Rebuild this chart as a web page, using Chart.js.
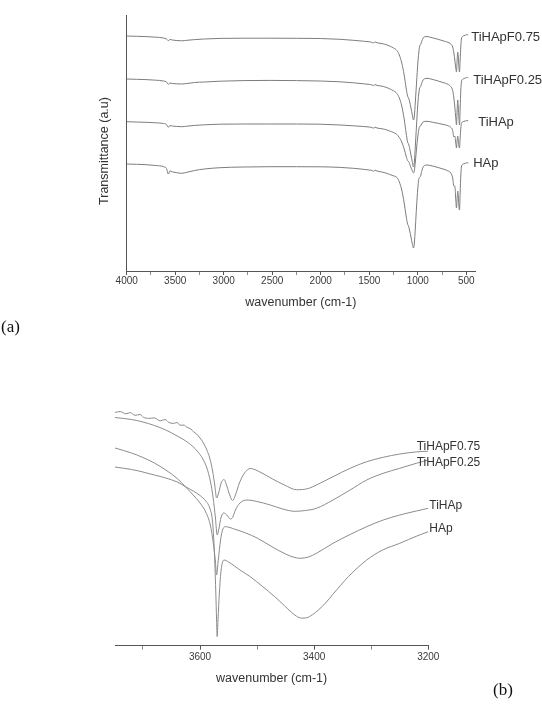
<!DOCTYPE html>
<html><head><meta charset="utf-8">
<script src="https://cdn.jsdelivr.net/npm/chart.js@4/dist/chart.umd.min.js"></script>
<style>
html,body{margin:0;padding:0;background:#fff;}
#wrap{position:relative;width:542px;height:707px;overflow:hidden;background:#fff;}
#ca{position:absolute;left:0;top:0;width:542px;height:320px;}
#cb{position:absolute;left:0;top:380px;width:542px;height:320px;}
.panel{position:absolute;font-family:"Liberation Serif","Times New Roman",serif;font-size:17px;color:#111;line-height:20px;}
</style></head><body>
<div id="wrap">
<canvas id="ca" width="542" height="320"></canvas>
<canvas id="cb" width="542" height="320"></canvas>
<div class="panel" style="left:1px;top:317px">(a)</div>
<div class="panel" style="left:493px;top:680px">(b)</div>
</div>
<script>
// ---------- Panel (a): full spectra ----------
const namesA = ['TiHApF0.75', 'TiHApF0.25', 'TiHAp', 'HAp'];
const wavenumberA = [4000,3900,3800,3700,3620,3590,3571,3555,3530,3490,3433,3380,3300,3200,3038,2800,2522,2250,2006,1800,1663,1560,1500,1470,1457,1440,1420,1380,1330,1290,1250,1215,1190,1165,1140,1120,1105,1095,1085,1070,1055,1044,1035,1025,1012,1000,990,980,970,960,945,925,905,880,840,790,740,690,660,640,628,618,608,601,594,588,582,576,570,563,556,550,540,525,510,495,480];
const tiHApF075A = [235,234.7,234.4,233.8,233,232,230.3,231.5,231,230.5,230.2,230.7,231.4,232,232.6,232.8,232.8,232.7,232.5,231.7,230.7,229.8,229.2,228.6,228,229.1,228.2,227.6,226.5,225,223,220.5,216,208,196,183,175,173,170,163,155.5,151,155,169,189,207,218,225,226.5,229.5,233,234.3,234.5,234,233,231.7,230.2,228.7,227,224,218,211,203,199,211,219,214,204,199,211,225,232,234.5,235.3,235.8,236.4,236];
const tiHApF025A = [192,191.7,191.4,190.8,190,189,186.7,188,187.5,187.2,187,187.5,188.5,189,189.8,190.4,190.6,190.4,190,189.2,188.2,187.2,186.6,186,185.4,186.4,185.6,185,183.8,182.2,180.2,177.5,173,165,152,138,129,127,123.5,116,108.5,104,109,125,147,166,177,183,184.5,187.5,191,192.4,192.7,192.4,191.4,190,188.5,186.7,184.5,180.5,173,164,153,146,161,171,164,153,146,163,181,189,191.5,192.4,193,193.6,193.2];
const tiHApA = [149.3,149,148.7,148.2,147.5,146.5,143.7,145.4,145,144.6,144.3,144.8,145.6,146.2,146.8,147,147,147,146.8,146,145.2,144.5,144,143.4,142.8,143.8,143,142.4,141.4,140,138.5,136.5,133.5,129,122,115,110.5,109.5,107.5,103.5,100,98,100.5,109,123,134,141,144.5,145.2,147,149,149.6,149.7,149.4,148.6,147.7,146.6,145.4,143.7,140.5,134,135,128,123,131,135,131,125,123,133,143,147.5,149,149.6,150,150.5,150.2];
const hApA = [107,106.7,106.3,105.5,104.3,102.5,97,100,99.2,98.4,97.7,98.7,100.5,102,103.3,104,104.3,104.3,104.2,103.6,102.7,101.7,101,100.5,99.7,100.8,100,99.2,98,96.6,95.2,93.5,89,81,68,55,47,45,41,34,26.5,23,28,43,65,82,91.5,94,95,99.5,104,105.7,106,105.7,104.8,103.5,102,100.2,98,93,85,85,71,63,73,80,75,65,61,78,96,104,106.5,107.2,107.7,108.3,108];
const majorTicksA = [4000,3500,3000,2500,2000,1500,1000,500];
const minorTicksA = [3750,3250,2750,2250,1750,1250,750];

// ---------- Panel (b): OH region ----------
const namesB = ['TiHApF0.75', 'TiHApF0.25', 'TiHAp', 'HAp'];
const wnF075B = [3749,3740,3730,3722,3714,3705,3699,3690,3680,3670,3661,3655,3647,3640,3635,3628,3623,3616,3612,3606,3600,3594,3588,3583,3578,3574,3571,3567,3563,3558,3553,3548,3543,3538,3531,3522,3512,3495,3473,3452,3431,3410,3396,3367,3337,3308,3279,3250,3221,3200];
const tF075B = [233.2,234.2,231.9,233.1,230.4,231.2,228.4,227.3,227.8,224.8,226.2,223.4,222.3,223.2,220.5,220.6,218.4,216.7,214.2,211.7,207.7,202.7,195.7,187.7,174.7,159.7,147.7,153.7,162.7,166.2,159.7,150.7,145.2,150.7,162.7,172.7,177.2,173.7,166.7,160.7,156,157.2,160.7,169,177.4,184,188.4,191.7,193.8,194.5];
const wnF025B = [3749,3720,3700,3680,3660,3640,3620,3605,3595,3588,3582,3577,3573,3570,3567,3563,3558,3553,3547,3543,3538,3530,3518,3500,3477,3455,3434,3415,3396,3367,3337,3308,3279,3250,3221,3200];
const tF025B = [228.2,226.2,223.7,220.2,215.7,209.7,202.7,194.7,186.7,177.7,164.7,147.7,127.7,110.7,116.7,128.7,132.7,130.7,126.7,128.2,135.7,142.7,145.7,144.2,140.7,136.7,134.4,135.2,137.4,145.7,155.7,165.7,172.4,177.4,182.4,185.7];
const wnTiHApB = [3749,3720,3700,3680,3660,3640,3626,3612,3600,3590,3582,3577,3573,3571,3568,3564,3560,3555,3540,3520,3500,3470,3450,3437,3425,3410,3396,3367,3337,3308,3279,3250,3221,3200];
const tTiHApB = [197.7,192.7,188.2,182.7,175.7,167.2,159.2,150.7,142.7,133.7,120.7,103.7,83.7,70.7,85.7,105.7,116.7,119,116.7,112.7,107.7,97.7,91.7,88.7,87.4,88.7,92.4,102.4,111.2,119,125.7,130.7,134.7,137.4];
const wnHApB = [3749,3720,3700,3680,3660,3640,3626,3612,3600,3590,3583,3578,3575,3572.5,3571,3570,3568.5,3566,3563,3558,3550,3530,3512,3490,3470,3452,3440,3431,3422,3413,3403,3392,3380,3367,3340,3308,3280,3250,3220,3200];
const tHApB = [178.7,176.2,173.7,170.7,167.7,163.7,159.2,154.7,150.2,144.7,137.7,123.7,95.7,55.7,25.7,9.2,25.7,53.7,75.7,85.7,83.7,75.7,69,59,49.5,40,33.5,29.5,27.6,28,31,36,42.7,51.5,69,85.7,95.7,102.4,109.7,114];
const majorTicksB = [3600,3400,3200];
const minorTicksB = [3700,3500,3300];

// ---------- helpers ----------
const SANS = '"Liberation Sans", Arial, Helvetica, sans-serif';
const pairs = (xs, ys) => xs.map((x, i) => ({x: x, y: ys[i]}));

const endLabels = {
  id: 'endLabels',
  afterDatasetsDraw(chart, args, opts) {
    const ctx = chart.ctx;
    ctx.save();
    ctx.font = opts.font;
    ctx.fillStyle = opts.color;
    ctx.textAlign = 'left';
    ctx.textBaseline = 'middle';
    chart.data.datasets.forEach((ds, i) => {
      const meta = chart.getDatasetMeta(i);
      const pt = meta.data[meta.data.length - 1];
      const off = opts.offsets[i];
      ctx.fillText(ds.label, pt.x + off[0], pt.y + off[1]);
    });
    ctx.restore();
  }
};
const sideTitle = {
  id: 'sideTitle',
  afterDraw(chart, args, opts) {
    if (!opts || !opts.text) return;
    const ctx = chart.ctx;
    const a = chart.chartArea;
    ctx.save();
    ctx.translate(a.left + opts.dx, a.top + opts.dy);
    ctx.rotate(-Math.PI / 2);
    ctx.font = opts.font;
    ctx.fillStyle = opts.color;
    ctx.textAlign = 'center';
    ctx.textBaseline = 'middle';
    ctx.fillText(opts.text, 0, 0);
    ctx.restore();
  }
};

function lineDs(label, data, color) {
  return {label: label, data: data, borderColor: color, borderWidth: 1, pointRadius: 0,
          fill: false, tension: 0, cubicInterpolationMode: 'monotone'};
}

function xAxis(min, max, majors, minors, height, tickPad, titleText) {
  const all = majors.concat(minors).sort((a, b) => b - a);
  return {
    type: 'linear', reverse: true, min: min, max: max,
    afterBuildTicks: s => { s.ticks = all.map(v => ({value: v})); },
    afterFit: s => { s.height = height; },
    ticks: {
      autoSkip: false, maxRotation: 0, padding: tickPad, color: '#3a3a3a',
      font: {family: SANS, size: 10, lineHeight: 1.2},
      callback: v => (majors.includes(v) ? String(v) : '')
    },
    grid: {display: true, drawOnChartArea: false, drawTicks: true, tickLength: 4,
           tickColor: c => (c.tick && majors.includes(c.tick.value) ? '#555' : '#8a8a8a'), tickWidth: 1},
    border: {display: true, color: '#555', width: 1},
    title: {display: true, text: titleText, color: '#333', padding: {top: 0, bottom: 0},
            font: {family: SANS, size: 12.5, lineHeight: 1.2}}
  };
}

// ---------- Chart (a) ----------
const seriesA = [tiHApF075A, tiHApF025A, tiHApA, hApA];
new Chart(document.getElementById('ca'), {
  type: 'line',
  data: {datasets: namesA.map((n, i) => lineDs(n, pairs(wavenumberA, seriesA[i]), '#7d7d7d'))},
  options: {
    responsive: false, animation: false, devicePixelRatio: 1,
    layout: {padding: {left: 90, right: 67, top: 15, bottom: 10}},
    plugins: {
      legend: {display: false}, tooltip: {enabled: false},
      endLabels: {font: '13px ' + SANS, color: '#333', offsets: [[3, 2.5], [5, 2.2], [10, 1.7], [5, 0]]},
      sideTitle: {text: 'Transmittance (a.u)', font: '12.5px ' + SANS, color: '#333', dx: -21.7, dy: 136}
    },
    scales: {
      x: xAxis(410, 4000, majorTicksA, minorTicksA, 39, 0, 'wavenumber (cm-1)'),
      y: {min: 0, max: 256, ticks: {display: false},
          grid: {display: false, drawTicks: false},
          border: {display: true, color: '#555', width: 1},
          afterFit: s => { s.width = 36.7; }}
    }
  },
  plugins: [endLabels, sideTitle]
});

// ---------- Chart (b) ----------
const dataB = [pairs(wnF075B, tF075B), pairs(wnF025B, tF025B), pairs(wnTiHApB, tTiHApB), pairs(wnHApB, tHApB)];
new Chart(document.getElementById('cb'), {
  type: 'line',
  data: {datasets: namesB.map((n, i) => lineDs(n, dataB[i], '#8c8c8c'))},
  options: {
    responsive: false, animation: false, devicePixelRatio: 1,
    layout: {padding: {left: 115, right: 113.7, top: 15.7, bottom: 14}},
    plugins: {
      legend: {display: false}, tooltip: {enabled: false},
      endLabels: {font: '12px ' + SANS, color: '#333', offsets: [[-11.6, -4.2], [-11.6, 2.5], [1, -2.3], [1, -2.7]]}
    },
    scales: {
      x: xAxis(3200, 3749, majorTicksB, minorTicksB, 40.3, 2, 'wavenumber (cm-1)'),
      y: {display: false, min: 0, max: 250}
    }
  },
  plugins: [endLabels]
});
</script>
</body></html>
